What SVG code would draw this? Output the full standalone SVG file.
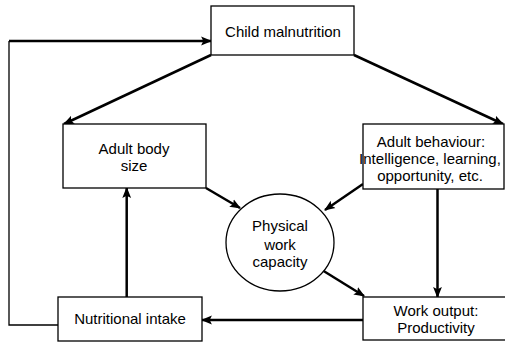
<svg xmlns="http://www.w3.org/2000/svg" width="505" height="343" viewBox="0 0 505 343">
<style>
.box{fill:#fff;stroke:#000;stroke-width:1.3}
.t{font-family:"Liberation Sans",Arial,sans-serif;font-size:15px;fill:#000;text-anchor:middle}
.c{fill:none;stroke:#000;stroke-width:2.5}
.thin{fill:none;stroke:#000;stroke-width:1.3}
</style>
<defs>
<marker id="ah" markerUnits="userSpaceOnUse" markerWidth="11" markerHeight="11" viewBox="0 0 10 10" refX="9" refY="5" orient="auto">
<path d="M0,1 L10,5 L0,9 L2,5 Z" fill="#000"/>
</marker>
</defs>
<rect width="505" height="343" fill="#fff"/>
<g id="connectors">
<path class="thin" d="M58,325 H9 V41"/>
<path class="c" d="M9,41 H211" marker-end="url(#ah)"/>
<path class="c" d="M211,55 L64,124" marker-end="url(#ah)"/>
<path class="c" d="M354,55 L503,124" marker-end="url(#ah)"/>
<path class="c" d="M206,188 L240,208" marker-end="url(#ah)"/>
<path class="c" d="M363,184 L325,210" marker-end="url(#ah)"/>
<path class="c" d="M322,270 L364,296" marker-end="url(#ah)"/>
<path class="c" d="M437.5,189 V297" marker-end="url(#ah)"/>
<path class="c" d="M363,320 H202" marker-end="url(#ah)"/>
<path class="c" d="M126.7,297 V188" marker-end="url(#ah)"/>
</g>
<g id="child-malnutrition">
<rect class="box" x="211" y="6" width="143" height="49"/>
<text class="t" x="283" y="37">Child malnutrition</text>
</g>
<g id="adult-body-size">
<rect class="box" x="63" y="124" width="143" height="64"/>
<text class="t" x="134" y="154">Adult body</text>
<text class="t" x="134" y="171">size</text>
</g>
<g id="adult-behaviour">
<rect class="box" x="363" y="124" width="141" height="65"/>
<text class="t" x="431" y="146.5">Adult behaviour:</text>
<text class="t" x="430" y="164">Intelligence, learning,</text>
<text class="t" x="430" y="181">opportunity, etc.</text>
</g>
<g id="physical-work-capacity">
<ellipse class="box" cx="280" cy="242.5" rx="54" ry="48.5"/>
<text class="t" x="280" y="231">Physical</text>
<text class="t" x="280" y="249.5">work</text>
<text class="t" x="280" y="266.5">capacity</text>
</g>
<g id="nutritional-intake">
<rect class="box" x="58" y="297" width="144" height="44"/>
<text class="t" x="130" y="324">Nutritional intake</text>
</g>
<g id="work-output">
<rect class="box" x="363" y="297" width="145" height="43"/>
<text class="t" x="436" y="315.5">Work output:</text>
<text class="t" x="436" y="333">Productivity</text>
</g>
</svg>
